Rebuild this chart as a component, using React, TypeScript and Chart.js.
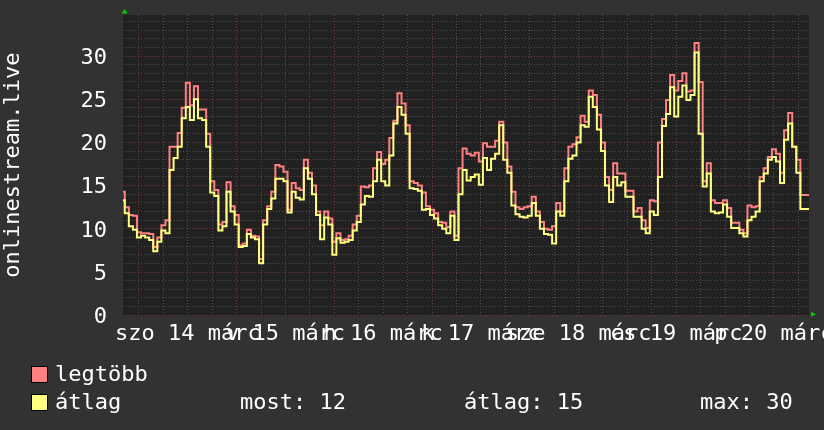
import React, { useEffect, useRef } from 'react';
import { Chart, registerables } from 'chart.js';

Chart.register(...registerables);

// hours relative to midnight of 14 March (one value per hour)
const START_HOUR = -4;
const X_MIN = -3.93;
const X_MAX = 164.62;
const Y_MAX = 34.75;

const MAX_VALUES = [
  14.3, 12.5, 11.6, 11.5,
  9.6, 9.5, 9.5, 9.4, 7.9, 9.0, 10.4, 11.0, 19.5, 19.5, 21.1, 24.0,
  26.9, 24.3, 26.5, 23.8, 23.8, 21.0, 15.5, 14.5, 10.5, 10.8, 15.4, 12.6,
  11.6, 8.1, 8.3, 9.9, 9.2, 9.1, 6.5, 11.0, 12.6, 14.3, 17.4, 17.2,
  16.6, 12.2, 15.3, 14.7, 14.5, 18.0, 16.5, 15.0, 12.0, 10.4, 12.0, 11.2,
  8.5, 9.5, 8.7, 8.8, 9.2, 10.5, 11.5, 14.9, 14.8, 15.0, 17.0, 18.9,
  17.5, 18.0, 20.5, 22.5, 25.7, 24.5, 22.0, 15.5, 15.3, 15.0, 14.2, 12.6,
  12.2, 11.8, 10.8, 10.7, 10.2, 12.0, 9.2, 17.0, 19.3, 18.7, 18.5, 18.8,
  17.8, 19.9, 19.5, 19.5, 20.2, 22.4, 20.0, 17.2, 14.3, 12.5, 12.3, 12.5,
  12.6, 13.7, 12.0, 10.8, 10.0, 9.9, 10.3, 13.0, 12.0, 17.0, 19.5, 19.8,
  20.6, 23.1, 22.4, 26.0, 25.5, 23.2, 20.0, 16.0, 14.5, 17.6, 16.4, 16.4,
  14.4, 14.4, 12.0, 12.4, 11.0, 10.1, 13.3, 13.2, 20.0, 22.7, 24.9, 27.8,
  26.0, 27.1, 28.0, 25.9, 26.0, 31.5, 27.0, 15.5, 17.6, 13.3, 13.0, 13.0,
  13.3, 12.4, 10.7, 10.7, 9.9, 9.5, 12.7, 12.5, 12.6, 16.0, 17.0, 18.3,
  19.2, 18.7, 16.5, 21.4, 23.4, 19.5, 18.0, 13.9, 13.9, 13.9,
];

const AVG_VALUES = [
  13.3, 11.8, 10.3, 9.9,
  9.0, 9.2, 9.0, 8.7, 7.4, 8.5, 9.8, 9.5, 16.8, 18.2, 19.5, 22.8,
  24.1, 22.6, 25.0, 22.8, 22.6, 19.5, 14.2, 13.8, 9.8, 10.3, 14.3, 12.0,
  10.5, 7.9, 8.0, 9.4, 9.0, 8.8, 6.0, 10.5, 12.3, 13.5, 15.8, 15.8,
  15.5, 11.9, 14.3, 13.6, 13.4, 17.0, 15.8, 14.0, 11.6, 8.8, 11.3, 10.5,
  7.0, 8.9, 8.4, 8.5, 8.7, 9.8, 10.8, 12.8, 13.8, 13.7, 15.5, 18.0,
  15.5, 15.0, 18.5, 22.2, 24.1, 23.2, 21.0, 14.7, 14.6, 14.4, 12.2, 12.3,
  11.6, 11.2, 10.4, 10.0, 9.5, 11.5, 8.7, 14.0, 16.8, 15.6, 16.0, 16.3,
  15.1, 18.2, 16.8, 18.1, 18.7, 22.0, 18.0, 16.5, 12.7, 11.7, 11.4, 11.3,
  11.5, 13.0, 11.5, 10.0, 9.4, 9.3, 8.3, 12.0, 11.5, 15.5, 18.1, 18.5,
  20.0, 22.0, 21.8, 25.3, 24.1, 21.5, 19.0, 15.0, 13.1, 16.0, 15.0, 15.4,
  13.7, 13.7, 11.4, 11.4, 10.0, 9.5, 12.0, 11.6, 16.0, 21.9, 23.3, 26.4,
  23.0, 25.3, 26.6, 24.9, 25.5, 30.4, 21.0, 14.9, 16.4, 12.0, 11.8, 11.9,
  12.8, 11.4, 10.1, 10.1, 9.5, 9.1, 11.0, 11.4, 12.0, 15.5, 16.4, 18.0,
  18.3, 17.8, 15.3, 20.3, 22.2, 19.5, 16.5, 12.3, 12.3, 12.3,
];

const DAY_LABELS = ['szo 14 márc', 'v 15 márc', 'h 16 márc', 'k 17 márc', 'sze 18 márc', 'cs 19 márc', 'p 20 márc'];
const X_GRID_STEP = 6; // hours
const Y_GRID_STEP = 1;
const Y_LABEL_STEP = 5;
const AXIS_TITLE = 'onlinestream.live';
const SERIES_NAMES = ['legtöbb', 'átlag'];
const STATS = ['most: 12', 'átlag: 15', 'max: 30'];

const FONT = '"DejaVu Sans Mono", monospace';
const BG = '#323232';
const PLOT_BG = '#212121';
const MINOR = '#505050';
const MAJOR = '#7a3a3a';
const PINK = '#ff8080';
const YELLOW = '#ffff80';

const toPoints = (vals: number[]) => vals.map((v, i) => ({ x: START_HOUR + i, y: v }));

const decorPlugin = {
  id: 'rrdDecor',
  beforeDraw(chart: any) {
    const { ctx, chartArea } = chart;
    ctx.save();
    ctx.fillStyle = BG;
    ctx.fillRect(0, 0, chart.width, chart.height);
    ctx.fillStyle = PLOT_BG;
    ctx.fillRect(chartArea.left, chartArea.top, chartArea.right - chartArea.left, chartArea.bottom - chartArea.top);
    ctx.restore();
  },
  afterDraw(chart: any) {
    const { ctx, chartArea } = chart;
    ctx.save();
    // axis arrows
    ctx.fillStyle = '#00cc00';
    ctx.beginPath();
    ctx.moveTo(chartArea.left + 1.5, chartArea.top - 6);
    ctx.lineTo(chartArea.left - 1.5, chartArea.top - 1.5);
    ctx.lineTo(chartArea.left + 4.5, chartArea.top - 1.5);
    ctx.closePath();
    ctx.fill();
    ctx.beginPath();
    ctx.moveTo(chartArea.right + 7, chartArea.bottom - 1);
    ctx.lineTo(chartArea.right + 2, chartArea.bottom - 3.5);
    ctx.lineTo(chartArea.right + 2, chartArea.bottom + 1.5);
    ctx.closePath();
    ctx.fill();

    // legend
    ctx.font = '22px ' + FONT;
    ctx.textBaseline = 'alphabetic';
    ctx.textAlign = 'left';
    const rows = [381, 409];
    const colors = [PINK, YELLOW];
    rows.forEach((y, i) => {
      ctx.fillStyle = colors[i];
      ctx.fillRect(32, y - 14, 15, 15);
      ctx.strokeStyle = '#000';
      ctx.lineWidth = 1;
      ctx.strokeRect(31.5, y - 14.5, 16, 16);
      ctx.fillStyle = '#ffffff';
      ctx.fillText(SERIES_NAMES[i], 55, y);
    });
    ctx.fillStyle = '#ffffff';
    const statX = [240, 464, 700];
    STATS.forEach((s, i) => ctx.fillText(s, statX[i], rows[1]));
    ctx.restore();
  },
};

export default function App() {
  const ref = useRef<HTMLCanvasElement>(null);
  useEffect(() => {
    const canvas = ref.current!;
    const xTicks: number[] = [];
    for (let v = 0; v <= X_MAX; v += X_GRID_STEP) xTicks.push(v);
    const yTicks: number[] = [];
    for (let v = 0; v <= Y_MAX; v += Y_GRID_STEP) yTicks.push(v);

    const chart = new Chart(canvas, {
      type: 'line',
      data: {
        datasets: [
          {
            label: SERIES_NAMES[1],
            data: toPoints(AVG_VALUES),
            borderColor: YELLOW,
            borderWidth: 2,
            pointRadius: 0,
            stepped: 'middle',
            fill: false,
          },
          {
            label: SERIES_NAMES[0],
            data: toPoints(MAX_VALUES),
            borderColor: PINK,
            borderWidth: 2,
            pointRadius: 0,
            stepped: 'middle',
            fill: false,
          },
        ],
      },
      options: {
        responsive: false,
        animation: false,
        events: [],
        layout: { padding: { top: 15, right: 15, left: 0, bottom: 0 } },
        plugins: { legend: { display: false }, tooltip: { enabled: false } },
        scales: {
          x: {
            type: 'linear',
            min: X_MIN,
            max: X_MAX,
            afterBuildTicks: (scale: any) => {
              scale.ticks = xTicks.map((v) => ({ value: v }));
            },
            afterFit: (scale: any) => {
              scale.height = 430 - 315.2;
              scale.paddingLeft = 0;
              scale.paddingRight = 0;
            },
            grid: {
              drawTicks: false,
              lineWidth: 1,
              color: (c: any) => (c.tick && c.tick.value % 24 === 0 ? MAJOR : MINOR),
            },
            border: { display: false, dash: [1, 2] },
            ticks: {
              autoSkip: false,
              maxRotation: 0,
              minRotation: 0,
              padding: 6,
              color: '#ffffff',
              font: { family: FONT, size: 22 },
              callback: (v: any) => {
                const n = Number(v);
                return n % 24 === 12 ? DAY_LABELS[(n - 12) / 24] : '';
              },
            },
          },
          y: {
            type: 'linear',
            min: 0,
            max: Y_MAX,
            afterBuildTicks: (scale: any) => {
              scale.ticks = yTicks.map((v) => ({ value: v }));
            },
            afterFit: (scale: any) => {
              scale.width = 123;
              scale.paddingTop = 0;
              scale.paddingBottom = 0;
            },
            grid: {
              drawTicks: false,
              lineWidth: 1,
              color: (c: any) => (c.tick && c.tick.value % Y_LABEL_STEP === 0 ? MAJOR : MINOR),
            },
            border: { display: false, dash: [1, 2] },
            title: {
              display: true,
              text: AXIS_TITLE,
              color: '#ffffff',
              font: { family: FONT, size: 22 },
              padding: 0,
            },
            ticks: {
              autoSkip: false,
              padding: 16,
              labelOffset: 2,
              color: '#ffffff',
              font: { family: FONT, size: 22 },
              callback: (v: any) => (Number(v) % Y_LABEL_STEP === 0 ? String(v) : ''),
            },
          },
        },
      },
      plugins: [decorPlugin],
    });
    return () => chart.destroy();
  }, []);

  return (
    <div style={{ position: 'fixed', left: 0, top: 0, width: 824, height: 430, background: BG }}>
      <canvas ref={ref} width={824} height={430} style={{ display: 'block', width: 824, height: 430 }} />
    </div>
  );
}
